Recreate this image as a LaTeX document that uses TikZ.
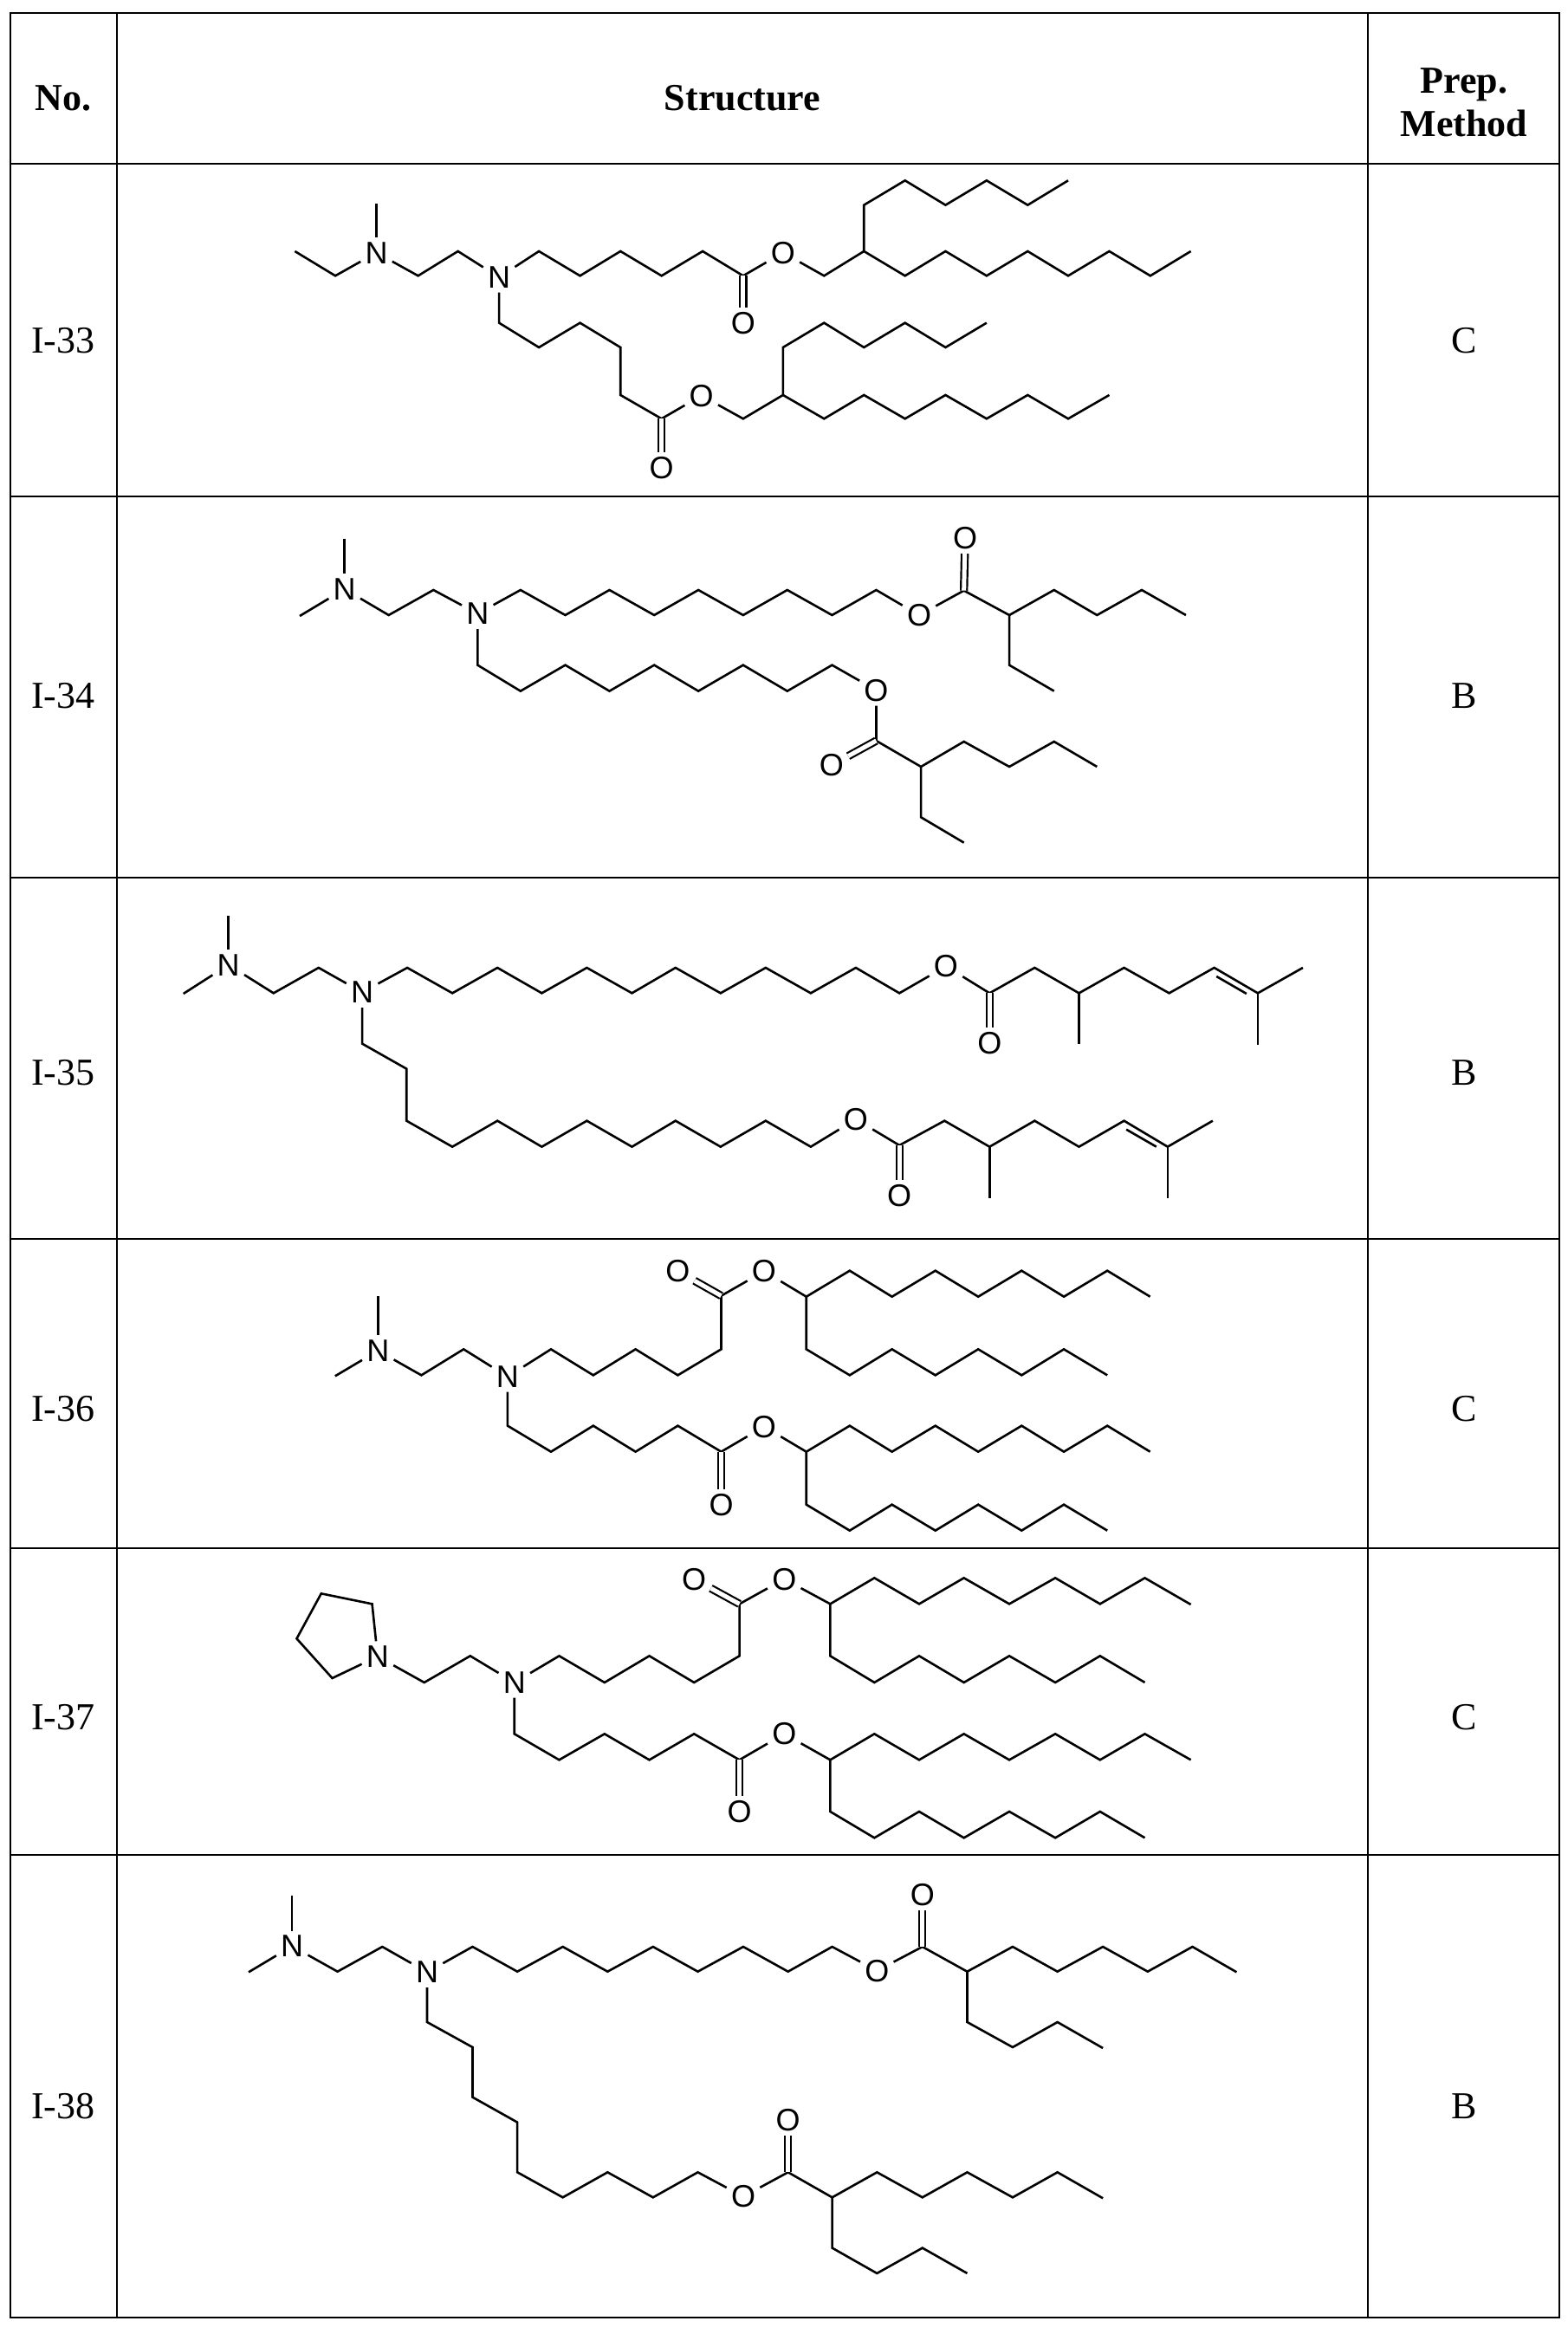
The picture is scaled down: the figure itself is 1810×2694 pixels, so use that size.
\documentclass[tikz,border=0pt]{standalone}
\usepackage{fontspec}
\setmainfont{Liberation Serif}
\newfontfamily\atomfont{Liberation Sans}
\begin{document}
\begin{tikzpicture}[x=1pt,y=-1pt,
  tbl/.style={line width=2.8pt},
  bond/.style={line width=2.6pt, line join=miter},
  dbl/.style={line width=2.2pt, double, double distance=5pt},
  atom/.style={font=\atomfont\fontsize{36}{40}\selectfont, inner sep=4pt},
  cell/.style={font=\fontsize{44}{52}\selectfont},
  head/.style={font=\bfseries\fontsize{44}{52}\selectfont, align=center}]
\useasboundingbox (0,0) rectangle (1810,2694);
% table
\draw[tbl] (12,15) rectangle (1800,2675);
\draw[tbl] (135,15) -- (135,2675);
\draw[tbl] (1579,15) -- (1579,2675);
\foreach \yy in {189,573,1013,1430,1787,2141} \draw[tbl] (12,\yy) -- (1800,\yy);
\node[head] (hno) at (73,113) {No.};
\node[head] (hst) at (857,113) {Structure};
\node[head] (hpm) at (1690,118) {Prep.\\[-2pt]Method};
\node[cell] (n33) at (73,393) {I-33}; \node[cell] (m33) at (1690,393) {C};
\node[cell] (n34) at (73,803) {I-34}; \node[cell] (m34) at (1690,803) {B};
\node[cell] (n35) at (73,1238) {I-35}; \node[cell] (m35) at (1690,1238) {B};
\node[cell] (n36) at (73,1626) {I-36}; \node[cell] (m36) at (1690,1626) {C};
\node[cell] (n37) at (73,1982) {I-37}; \node[cell] (m37) at (1690,1982) {C};
\node[cell] (n38) at (73,2431) {I-38}; \node[cell] (m38) at (1690,2431) {B};

% I-33
\begin{scope}[shift={(300pt,-190pt)}, x=0.7079pt, y=-0.3333pt, every path/.append style={bond}]
\node[atom] (aN1) at (190,305) {N}; \node[atom] (aN2) at (390,390) {N};
\node[atom] (aO1) at (788,550) {O}; \node[atom] (aO2) at (853,305) {O};
\node[atom] (aO3) at (655,1050) {O}; \node[atom] (aO4) at (720,800) {O};
\draw (190,135) -- (aN1);
\draw (57,300) -- (123,385) -- (aN1);
\draw (aN1) -- (258,385) -- (323,300) -- (aN2);
\draw (aN2) -- (455,300) -- (522,385) -- (588,300) -- (655,385) -- (722,300) -- (788,385) coordinate (aC1) -- (aO2) -- (920,385) -- (985,300) coordinate (aB1) -- (985,140) -- (1052,55) -- (1118,140) -- (1185,55) -- (1252,140) -- (1318,55);
\draw (aB1) -- (1052,385) -- (1118,300) -- (1185,385) -- (1252,300) -- (1318,385) -- (1385,300) -- (1452,385) -- (1518,300);
\draw[dbl] (aC1) -- (aO1);
\draw (aN2) -- (390,548) -- (455,633) -- (522,548) -- (588,633) -- (588,798) -- (655,880) coordinate (aC2) -- (aO4) -- (788,880) -- (853,798) coordinate (aB2) -- (853,633) -- (920,548) -- (985,633) -- (1052,548) -- (1118,633) -- (1185,548);
\draw (aB2) -- (920,880) -- (985,798) -- (1052,880) -- (1118,798) -- (1185,880) -- (1252,798) -- (1318,880) -- (1385,798);
\draw[dbl] (aC2) -- (aO3);
\end{scope}

% I-34
\begin{scope}[shift={(300pt,-575pt)}, x=0.7079pt, y=-0.3333pt, every path/.append style={bond}]
\node[atom] (bN1) at (138,315) {N}; \node[atom] (bN2) at (355,400) {N};
\node[atom] (bO1) at (1150,138) {O}; \node[atom] (bO2) at (1075,405) {O};
\node[atom] (bO3) at (1005,665) {O}; \node[atom] (bO4) at (932,925) {O};
\draw (138,140) -- (bN1); \draw (65,408) -- (bN1);
\draw (bN1) -- (210,405) -- (283,318) -- (bN2);
\draw (bN2) -- (425,318) -- (498,405) -- (570,318) -- (643,405) -- (715,318) -- (788,405) -- (860,318) -- (933,405) -- (1005,318) -- (bO2) -- (1148,320) coordinate (bC1) -- (1222,405) coordinate (bB1) -- (1295,318) -- (1365,405) -- (1438,318) -- (1510,405);
\draw (bB1) -- (1222,578) -- (1295,668);
\draw[dbl] (bC1) -- (bO1);
\draw (bN2) -- (355,578) -- (425,668) -- (498,578) -- (570,668) -- (643,578) -- (715,668) -- (788,578) -- (860,668) -- (933,578) -- (bO3) -- (1005,840) coordinate (bC2) -- (1078,930) coordinate (bB2) -- (1148,843) -- (1222,930) -- (1295,843) -- (1365,930);
\draw (bB2) -- (1078,1105) -- (1148,1193);
\draw[dbl] (bC2) -- (bO4);
\end{scope}

% I-35
\begin{scope}[shift={(190pt,-1012pt)}, x=0.8673pt, y=-0.3333pt, every path/.append style={bond}]
\node[atom] (cN1) at (85,305) {N}; \node[atom] (cN2) at (263,400) {N};
\node[atom] (cO1) at (1040,310) {O}; \node[atom] (cO2) at (1098,575) {O};
\node[atom] (cO3) at (920,840) {O}; \node[atom] (cO4) at (978,1105) {O};
\draw (85,135) -- (cN1); \draw (25,405) -- (cN1);
\draw (cN1) -- (145,403) -- (205,315) -- (cN2);
\draw (cN2) -- (323,315) -- (383,403) -- (443,315) -- (502,403) -- (562,315) -- (622,403) -- (680,315) -- (740,403) -- (800,315) -- (860,403) -- (920,315) -- (978,403) -- (cO1) -- (1098,403) coordinate (cC1) -- (1158,315) -- (1217,403) coordinate (cM1) -- (1277,315) -- (1337,403) -- (1397,315) -- (1455,403) coordinate (cD1) -- (1515,315);
\draw (cM1) -- (1217,580); \draw (cD1) -- (1455,583); \draw (1400,345) -- (1440,405);
\draw[dbl] (cC1) -- (cO2);
\draw (cN2) -- (263,578) -- (322,665) -- (322,845) -- (383,935) -- (443,845) -- (502,935) -- (562,845) -- (622,935) -- (680,845) -- (740,935) -- (800,845) -- (860,935) -- (cO3) -- (978,930) coordinate (cC2) -- (1038,845) -- (1098,935) coordinate (cM2) -- (1158,845) -- (1217,935) -- (1277,845) -- (1335,935) coordinate (cD2) -- (1395,845);
\draw (cM2) -- (1098,1112); \draw (cD2) -- (1335,1112); \draw (1280,875) -- (1320,935);
\draw[dbl] (cC2) -- (cO4);
\end{scope}

% I-36
\begin{scope}[shift={(340pt,-1434pt)}, x=0.6506pt, y=-0.3333pt, every path/.append style={bond}]
\node[atom] (dN1) at (148,375) {N}; \node[atom] (dN2) at (378,465) {N};
\node[atom] (dO1) at (680,100) {O}; \node[atom] (dO2) at (833,100) {O};
\node[atom] (dO3) at (757,910) {O}; \node[atom] (dO4) at (833,638) {O};
\draw (148,185) -- (dN1); \draw (72,463) -- (dN1);
\draw (dN1) -- (225,460) -- (300,370) -- (dN2);
\draw (dN2) -- (455,370) -- (530,460) -- (605,370) -- (680,460) -- (757,370) -- (757,185) coordinate (dC1) -- (dO2) -- (908,188) coordinate (dB1) -- (985,98) -- (1060,188) -- (1137,98) -- (1213,188) -- (1290,98) -- (1365,188) -- (1442,98) -- (1518,188);
\draw (dB1) -- (908,370) -- (985,460) -- (1060,370) -- (1137,460) -- (1213,370) -- (1290,460) -- (1365,370) -- (1442,460);
\draw[dbl] (dC1) -- (dO1);
\draw (dN2) -- (378,635) -- (455,725) -- (530,635) -- (605,725) -- (680,635) -- (757,725) coordinate (dC2) -- (dO4) -- (908,725) coordinate (dB2) -- (985,635) -- (1060,725) -- (1137,635) -- (1213,725) -- (1290,635) -- (1365,725) -- (1442,635) -- (1518,725);
\draw (dB2) -- (908,908) -- (985,998) -- (1060,908) -- (1137,998) -- (1213,908) -- (1290,998) -- (1365,908) -- (1442,998);
\draw[dbl] (dC2) -- (dO3);
\end{scope}

% I-37
\begin{scope}[shift={(300pt,-1792pt)}, x=0.7079pt, y=-0.3333pt, every path/.append style={bond}]
\node[atom] (eN1) at (192,360) {N}; \node[atom] (eN2) at (415,450) {N};
\node[atom] (eO1) at (708,92) {O}; \node[atom] (eO2) at (855,92) {O};
\node[atom] (eO3) at (782,897) {O}; \node[atom] (eO4) at (855,628) {O};
\draw (eN1) -- (183,178) -- (100,142) -- (60,298) -- (118,435) -- (eN1);
\draw (eN1) -- (268,450) -- (343,358) -- (eN2);
\draw (eN2) -- (488,358) -- (562,450) -- (635,358) -- (708,450) -- (782,358) -- (782,178) coordinate (eC1) -- (eO2) -- (930,178) coordinate (eB1) -- (1002,88) -- (1075,178) -- (1148,88) -- (1222,178) -- (1297,88) -- (1370,178) -- (1443,88) -- (1518,180);
\draw (eB1) -- (930,358) -- (1002,450) -- (1075,358) -- (1148,450) -- (1222,358) -- (1297,450) -- (1370,358) -- (1443,450);
\draw[dbl] (eC1) -- (eO1);
\draw (eN2) -- (415,628) -- (488,718) -- (562,628) -- (635,718) -- (708,628) -- (782,718) coordinate (eC2) -- (eO4) -- (930,718) coordinate (eB2) -- (1002,628) -- (1075,718) -- (1148,628) -- (1222,718) -- (1297,628) -- (1370,718) -- (1443,628) -- (1518,718);
\draw (eB2) -- (930,897) -- (1002,988) -- (1075,897) -- (1148,988) -- (1222,897) -- (1297,988) -- (1370,897) -- (1443,988);
\draw[dbl] (eC2) -- (eO3);
\end{scope}

% I-38
\begin{scope}[shift={(260pt,-2148pt)}, x=0.7716pt, y=-0.3333pt, every path/.append style={bond}]
\node[atom] (fN1) at (100,295) {N}; \node[atom] (fN2) at (302,385) {N};
\node[atom] (fO1) at (1043,118) {O}; \node[atom] (fO2) at (975,380) {O};
\node[atom] (fO3) at (842,898) {O}; \node[atom] (fO4) at (775,1162) {O};
\draw (100,120) -- (fN1); \draw (35,385) -- (fN1);
\draw (fN1) -- (168,383) -- (235,297) -- (fN2);
\draw (fN2) -- (370,297) -- (437,383) -- (505,297) -- (572,383) -- (640,297) -- (707,383) -- (775,297) -- (842,383) -- (908,297) -- (fO2) -- (1043,297) coordinate (fC1) -- (1110,383) coordinate (fB1) -- (1178,297) -- (1245,383) -- (1313,297) -- (1380,383) -- (1447,297) -- (1513,385);
\draw (fB1) -- (1110,558) -- (1178,645) -- (1245,558) -- (1313,648);
\draw[dbl] (fC1) -- (fO1);
\draw (fN2) -- (302,558) -- (370,645) -- (370,818) -- (437,905) -- (437,1078) -- (505,1165) -- (572,1078) -- (640,1165) -- (707,1078) -- (fO4) -- (842,1078) coordinate (fC2) -- (908,1165) coordinate (fB2) -- (975,1078) -- (1043,1165) -- (1110,1078) -- (1178,1165) -- (1245,1078) -- (1313,1168);
\draw (fB2) -- (908,1340) -- (975,1428) -- (1043,1340) -- (1110,1428);
\draw[dbl] (fC2) -- (fO3);
\end{scope}
\end{tikzpicture}
\end{document}
